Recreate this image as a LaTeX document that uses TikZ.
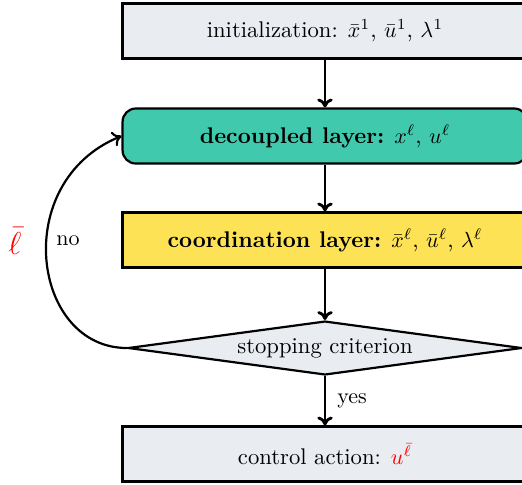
\documentclass[tikz,border=0pt]{standalone}
\usepackage{amsmath}
\usetikzlibrary{shapes.geometric,arrows.meta}
\definecolor{boxgrey}{RGB}{233,236,241}
\definecolor{teal}{RGB}{64,201,173}
\definecolor{sun}{RGB}{252,226,84}
\tikzset{
  stage/.style={draw=black, line width=1pt, minimum width=184pt, minimum height=25pt, inner sep=0pt, font=\fontsize{10.3}{12}\selectfont},
  decision/.style={diamond, aspect=7.3, draw=black, line width=1pt, fill=boxgrey, minimum width=179pt, minimum height=24.5pt, inner sep=0pt, font=\fontsize{10.3}{12}\selectfont},
  flow/.style={-{To[length=4pt,width=7pt]}, line width=1.3pt},
}
\begin{document}
\begin{tikzpicture}[x=0.4545pt,y=-0.4545pt]
  \useasboundingbox (0,0) rectangle (522,484);
  \clip (0,0) rectangle (522,484);
  \node[stage, fill=boxgrey] (init) at (325,31) {initialization: $\bar{x}^1$, $\bar{u}^1$, $\lambda^1$};
  \node[stage, fill=teal, rounded corners=6pt] (dec) at (325,136) {\textbf{decoupled layer:} $x^\ell$, $u^\ell$};
  \node[stage, fill=sun] (coord) at (325,240) {\textbf{coordination layer:} $\bar{x}^\ell$, $\bar{u}^\ell$, $\lambda^\ell$};
  \node[decision] (crit) at (325,348) {stopping criterion};
  \node[stage, fill=boxgrey] (ctrl) at (325,454) {control action: $\color{red}u^{\bar{\ell}}$};
  \draw[flow] (init) -- (dec);
  \draw[flow] (dec) -- (coord);
  \draw[flow] (coord) -- (crit);
  \draw[flow] (crit) -- node[right, inner sep=5pt] (yes) {yes} (ctrl);
  \draw[line width=1pt, -{To[length=4pt,width=7pt]}] (crit.west) .. controls +(-95,0) and +(-112,46) .. (dec.west);
  \node (no) at (68,241) {no};
  \node[font=\Large, text=red] (lbar) at (15,241) {$\bar{\ell}$};
\end{tikzpicture}
\end{document}
